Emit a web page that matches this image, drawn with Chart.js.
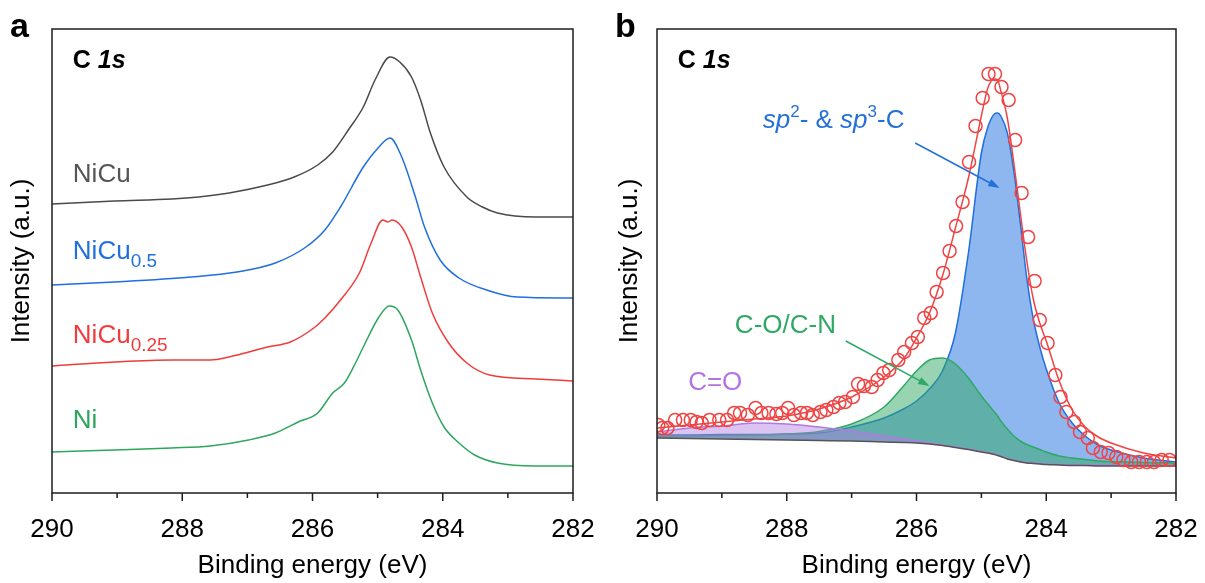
<!DOCTYPE html>
<html>
<head>
<meta charset="utf-8">
<script src="https://cdn.jsdelivr.net/npm/chart.js@4.4.1/dist/chart.umd.min.js"></script>
<style>
  html, body { margin: 0; padding: 0; background: #fff; }
  #wrap { position: relative; width: 1205px; height: 583px; }
  .pane { position: absolute; top: 0; height: 583px; }
  #pa { left: 0; width: 603px; }
  #pb { left: 603px; width: 602px; }
</style>
</head>
<body>
<div id="wrap">
  <div class="pane" id="pa"><canvas id="ca" width="603" height="583"></canvas></div>
  <div class="pane" id="pb"><canvas id="cb" width="602" height="583"></canvas></div>
</div>
<script>
// ---- panel a: stacked C 1s spectra (binding energy eV / intensity, a.u. with offsets)
const niCuE  = [290, 289.04, 288.16, 287.75, 287.28, 286.69, 286.28, 285.92, 285.69, 285.45, 285.22, 285.04, 284.81, 284.66, 284.48, 284.34, 284.19, 283.98, 283.63, 283.39, 283.16, 282.57, 282];
const niCuI  = [289, 292, 294, 296, 300, 308, 316, 328, 341, 363, 386, 413, 436, 431, 416, 393, 360, 326, 296, 286, 280, 276, 276];
const niCu05E = [290, 289.04, 287.86, 287.16, 286.57, 286.1, 285.81, 285.57, 285.22, 284.98, 284.81, 284.63, 284.42, 284.28, 284.04, 283.75, 283.28, 282.86, 282];
const niCu05I = [208, 211, 216, 221, 230, 246, 263, 286, 326, 346, 355, 336, 296, 266, 233, 215, 202, 196, 195];
const niCu025E = [290, 289.04, 288.16, 287.57, 287.28, 286.98, 286.69, 286.34, 285.98, 285.81, 285.57, 285.28, 285.1, 284.92, 284.84, 284.78, 284.63, 284.48, 284.34, 284.16, 283.92, 283.63, 283.28, 282.57, 282];
const niCu025I = [127, 131, 133, 133, 136, 141, 146, 151, 165, 175, 193, 220, 250, 273, 271, 273, 266, 246, 216, 180, 151, 130, 118, 114, 112];
const niE = [290, 289.04, 288.16, 287.57, 286.98, 286.57, 286.22, 285.92, 285.69, 285.51, 285.34, 285.22, 284.98, 284.82, 284.69, 284.48, 284.34, 284.16, 283.98, 283.75, 283.51, 283.16, 282.57, 282];
const niI = [41, 43, 45, 47, 53, 60, 71, 80, 100, 110, 130, 146, 176, 187, 183, 153, 123, 90, 66, 50, 38, 30, 27, 27];

// ---- panel b: peak fit of C 1s
const fitE = [290, 289.5, 289, 288.5, 288, 287.5, 287, 286.5, 286.2, 286, 285.8, 285.6, 285.4, 285.2, 285.0, 284.9, 284.8, 284.75, 284.7, 284.6, 284.5, 284.4, 284.3, 284.2, 284.1, 284.0, 283.8, 283.6, 283.4, 283.2, 283, 282.5, 282];
const bgI   = [55, 54.5, 54, 53.5, 53, 52.5, 52, 51, 50.5, 50, 49, 47.5, 45.5, 43.5, 41, 40, 38.5, 37.5, 36.5, 34, 32.5, 31, 30, 29.5, 29, 28.5, 28, 27.5, 27.5, 27, 27, 27, 27];
const coI   = [61, 65, 67, 70, 69, 66, 62, 57, 54, 52, 50, 48, 46, 44, 41.5, 40.5, 39, 38, 37, 34.5, 33, 31.5, 30.5, 30, 29.5, 29, 28.5, 28, 28, 28, 28, 27.5, 27.5];
const cocnI = [57, 57, 57.5, 58, 59, 61.5, 69, 86, 107, 122, 133, 135, 129, 115, 97, 89, 81, 77, 72, 64, 57, 52, 48.5, 46, 43.5, 41, 37, 35, 33.5, 32, 31.5, 30.5, 30];
const spI   = [58, 58, 58.5, 58.5, 59, 60, 66, 75, 84, 92, 104, 122, 160, 240, 340, 366, 379, 380, 377, 360, 322, 270, 215, 174, 146, 124, 90, 70, 57, 48, 43, 35, 31];
const envI  = [65, 68, 71, 74, 77, 84, 96, 116, 134, 155, 180, 217, 265, 315, 377, 405, 414, 413, 402, 375, 330, 280, 232, 194, 170, 152, 112, 83, 66, 56, 50, 40, 35];
const rawE = [289.98, 289.92, 289.84, 289.72, 289.6, 289.48, 289.39, 289.31, 289.19, 289.04, 288.92, 288.81, 288.72, 288.6, 288.48, 288.39, 288.28, 288.16, 288.07, 287.98, 287.89, 287.78, 287.69, 287.6, 287.48, 287.39, 287.28, 287.19, 287.1, 286.98, 286.9, 286.81, 286.69, 286.6, 286.51, 286.42, 286.28, 286.19, 286.07, 285.98, 285.88, 285.78, 285.69, 285.59, 285.49, 285.39, 285.29, 285.19, 285.09, 284.98, 284.89, 284.79, 284.69, 284.58, 284.48, 284.38, 284.28, 284.18, 284.1, 283.98, 283.86, 283.78, 283.69, 283.57, 283.48, 283.36, 283.28, 283.16, 283.04, 282.92, 282.81, 282.69, 282.57, 282.45, 282.34, 282.22, 282.1];
const rawI = [68, 65, 65, 73, 73, 73, 71, 70, 73, 73, 73, 80, 80, 78, 85, 80, 80, 79, 80, 85, 78, 80, 80, 78, 81, 83, 86, 90, 91, 96, 109, 107, 106, 113, 120, 123, 133, 141, 150, 156, 175, 180, 201, 220, 242, 267, 291, 331, 367, 395, 419, 419, 406, 393, 353, 300, 256, 212, 173, 150, 118, 96, 81, 71, 61, 55, 45, 41, 40, 36, 33, 31, 31, 31, 31, 33, 33];

const xTicks = [290, 288, 286, 284, 282];

const FONT = '"Liberation Sans", Arial, Helvetica, sans-serif';
const pts = (xs, ys) => xs.map((x, i) => ({x, y: ys[i]}));

// frame, tick marks (major/minor), panel letter and in-plot text
const decor = {
  id: 'decor',
  afterDraw(chart, args, opts) {
    const {ctx, chartArea: a, scales: {x, y}} = chart;
    ctx.save();
    ctx.strokeStyle = '#1c1c1c';
    ctx.lineWidth = 1.5;
    ctx.strokeRect(a.left, a.top, a.right - a.left, a.bottom - a.top);
    ctx.beginPath();
    x.ticks.forEach(t => {
      const px = x.getPixelForValue(t.value);
      const len = xTicks.includes(t.value) ? 8 : 5;
      ctx.moveTo(px, a.bottom); ctx.lineTo(px, a.bottom + len);
    });
    ctx.stroke();

    ctx.fillStyle = '#000';
    ctx.font = 'bold 34px ' + FONT;
    ctx.textBaseline = 'alphabetic';
    ctx.textAlign = 'left';
    ctx.fillText(opts.letter, opts.letterX, 37);

    (opts.texts || []).forEach(tx => {
      let px = x.getPixelForValue(tx.e);
      const py = y.getPixelForValue(tx.v);
      ctx.fillStyle = tx.color;
      tx.parts.forEach(([s, f, dy]) => {
        ctx.font = f + ' ' + FONT;
        ctx.fillText(s, px, py + (dy || 0));
        px += ctx.measureText(s).width;
      });
    });

    (opts.arrows || []).forEach(ar => {
      const x0 = x.getPixelForValue(ar.from[0]), y0 = y.getPixelForValue(ar.from[1]);
      const x1 = x.getPixelForValue(ar.to[0]), y1 = y.getPixelForValue(ar.to[1]);
      const ang = Math.atan2(y1 - y0, x1 - x0);
      ctx.strokeStyle = ar.color; ctx.fillStyle = ar.color; ctx.lineWidth = 1.5;
      ctx.beginPath(); ctx.moveTo(x0, y0);
      ctx.lineTo(x1 - 8 * Math.cos(ang), y1 - 8 * Math.sin(ang)); ctx.stroke();
      ctx.beginPath();
      ctx.moveTo(x1, y1);
      ctx.lineTo(x1 - 12 * Math.cos(ang - 0.33), y1 - 12 * Math.sin(ang - 0.33));
      ctx.lineTo(x1 - 12 * Math.cos(ang + 0.33), y1 - 12 * Math.sin(ang + 0.33));
      ctx.closePath(); ctx.fill();
    });
    ctx.restore();
  }
};

function makeOptions(leftW, rightPad, yTitlePad, deco) {
  return {
    responsive: false,
    animation: false,
    layout: { padding: { top: 29, right: rightPad, bottom: 0, left: 0 } },
    plugins: { legend: { display: false }, tooltip: { enabled: false }, decor: deco },
    elements: { point: { radius: 0 }, line: { borderWidth: 1.5, cubicInterpolationMode: 'monotone' } },
    scales: {
      x: {
        type: 'linear', min: 282, max: 290, reverse: true,
        afterFit: s => { s.height = 90; s.paddingLeft = 0; s.paddingRight = 0; },
        grid: { display: false },
        border: { display: false },
        ticks: {
          stepSize: 1, padding: 13, color: '#000', maxRotation: 0,
          font: { family: FONT, size: 26 },
          callback: v => (xTicks.includes(v) ? String(v) : '')
        },
        title: { display: true, text: 'Binding energy (eV)', color: '#000',
                 font: { family: FONT, size: 26 }, padding: { top: 0, bottom: 2 } }
      },
      y: {
        min: 0, max: 464,
        afterFit: s => { s.width = leftW; },
        grid: { display: false },
        border: { display: false },
        ticks: { display: false },
        title: { display: true, text: 'Intensity (a.u.)', color: '#000',
                 font: { family: FONT, size: 26 }, padding: { top: yTitlePad, bottom: 0 } }
      }
    }
  };
}

const gray = '#4a4a4a', blue = '#1f6fdf', red = '#f03c3c', green = '#2ea65e';

new Chart(document.getElementById('ca'), {
  type: 'line',
  data: { datasets: [
    { label: 'NiCu', data: pts(niCuE, niCuI), borderColor: gray },
    { label: 'NiCu0.5', data: pts(niCu05E, niCu05I), borderColor: blue },
    { label: 'NiCu0.25', data: pts(niCu025E, niCu025I), borderColor: red },
    { label: 'Ni', data: pts(niE, niI), borderColor: green }
  ]},
  options: makeOptions(52, 30, 6, {
    letter: 'a', letterX: 10,
    texts: [
      { e: 289.68, v: 425, color: '#000', parts: [['C ', 'bold 25px'], ['1s', 'italic bold 25px']] },
      { e: 289.68, v: 311, color: '#555', parts: [['NiCu', '26px']] },
      { e: 289.68, v: 234, color: blue, parts: [['NiCu', '26px'], ['0.5', '19px', 8]] },
      { e: 289.68, v: 150, color: red, parts: [['NiCu', '26px'], ['0.25', '19px', 8]] },
      { e: 289.68, v: 65, color: green, parts: [['Ni', '26px']] }
    ]
  }),
  plugins: [decor]
});

new Chart(document.getElementById('cb'), {
  type: 'line',
  data: { datasets: [
    { label: 'raw', data: pts(rawE, rawI), showLine: false, order: 0,
      pointRadius: 6.5, pointBorderWidth: 1.5, pointBorderColor: '#f04444', pointBackgroundColor: 'rgba(0,0,0,0)' },
    { label: 'envelope', data: pts(fitE, envI), borderColor: '#f04444', order: 1 },
    { label: 'background', data: pts(fitE, bgI), borderColor: '#555', order: 2 },
    { label: 'sp2 & sp3-C', data: pts(fitE, spI), borderColor: blue, backgroundColor: 'rgba(31,111,223,0.5)',
      fill: { target: 2 }, order: 5 },
    { label: 'C-O/C-N', data: pts(fitE, cocnI), borderColor: '#2fa866', backgroundColor: 'rgba(50,170,100,0.5)',
      fill: { target: 2 }, order: 4 },
    { label: 'C=O', data: pts(fitE, coI), borderColor: '#b07ae2', backgroundColor: 'rgba(176,122,226,0.45)',
      fill: { target: 2 }, order: 3 }
  ]},
  options: makeOptions(54, 29, 11, {
    letter: 'b', letterX: 12,
    texts: [
      { e: 289.68, v: 425, color: '#000', parts: [['C ', 'bold 25px'], ['1s', 'italic bold 25px']] },
      { e: 288.37, v: 365, color: '#2470d8', parts: [['sp', 'italic 26px'], ['2', '17px', -11], ['- & ', '26px'], ['sp', 'italic 26px'], ['3', '17px', -11], ['-C', '26px']] },
      { e: 288.8, v: 160, color: '#2fa866', parts: [['C-O/C-N', '26px']] },
      { e: 289.52, v: 103, color: '#b472e2', parts: [['C=O', '26px']] }
    ],
    arrows: [
      { from: [286.02, 350], to: [284.72, 305], color: '#2470d8' },
      { from: [287.09, 152], to: [285.8, 107], color: '#2fa866' }
    ]
  }),
  plugins: [decor]
});
</script>
</body>
</html>
